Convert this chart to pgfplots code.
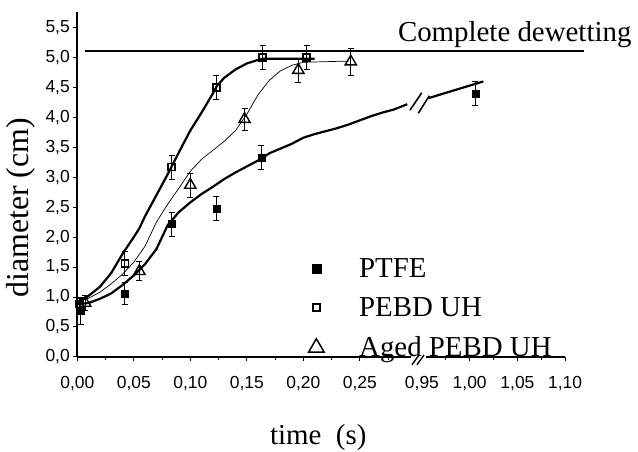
\documentclass[border=0pt]{standalone}
\usepackage{fontspec}
\setmainfont{Liberation Serif}
\newfontfamily\arialfont{Liberation Sans}
\usepackage{pgfplots}
\pgfplotsset{compat=1.18}
\pgfplotsset{
  errs/.style={error bars/y dir=both, error bars/y explicit,
    error bars/error bar style={line width=0.7bp,black},
    error bars/error mark options={rotate=90,mark size=3bp,line width=0.7bp,black}},
}
\begin{document}
\begin{tikzpicture}
\begin{axis}[
  scale only axis, width=488bp, height=345bp,
  xmin=0, xmax=0.43175, ymin=0, ymax=5.76,
  axis x line*=bottom, axis y line*=left,
  axis line style={line width=1.6bp},
  clip=false,
  % broken time axis: 0.95..1.10 is squeezed in after 0.30
  x filter/.expression={x>0.6 ? 0.305+(x-0.95)*0.845 : x},
  xtick={0,0.05,0.1,0.15,0.2,0.25,0.305,0.34725,0.3895,0.43175},
  xticklabels={{0,00},{0,05},{0,10},{0,15},{0,20},{0,25},{0,95},{1,00},{1,05},{1,10}},
  minor xtick={0.025,0.075,0.125,0.175,0.225,0.275,0.326125,0.368375,0.410625},
  ytick={0,0.5,...,5.5},
  yticklabels={{0,0},{0,5},{1,0},{1,5},{2,0},{2,5},{3,0},{3,5},{4,0},{4,5},{5,0},{5,5}},
  tick align=outside, major tick length=4bp, minor tick length=3bp,
  tick style={line width=1bp,black},
  tick label style={font=\arialfont\fontsize{17.5}{20}\selectfont},
  xticklabel style={yshift=-12bp},
  xlabel={time\ \ (s)}, ylabel={diameter (cm)},
  label style={font=\fontsize{29}{32}\selectfont},
  xlabel style={at={(axis description cs:0.494,-0.255)},anchor=base},
  ylabel style={at={(axis description cs:-0.101,0.432)},anchor=base,font=\fontsize{32}{34}\selectfont},
  legend style={at={(axis cs:0.2045,1.686)},anchor=north west,draw=none,fill=none,
    inner sep=0pt,row sep=15bp,column sep=33bp,font=\fontsize{29}{32}\selectfont,nodes={inner sep=2bp}},
  legend cell align=left,
]
% complete dewetting level
\addplot[black,line width=2bp,forget plot] coordinates {(0.007,5.1) (1.12,5.1)};
% PEBD UH curve
\addplot[black,line width=2.2bp,forget plot] coordinates {
(0,0.9) (0.01,1.02) (0.02,1.17) (0.03,1.4) (0.04,1.72) (0.05,2.0) (0.055,2.15)
(0.06,2.35) (0.07,2.7) (0.08,3.05) (0.0835,3.18) (0.09,3.42) (0.10,3.78)
(0.11,4.08) (0.12,4.4) (0.1234,4.52) (0.13,4.66) (0.14,4.8) (0.15,4.9)
(0.16,4.96) (0.165,4.98) (0.21,4.98)};
% Aged PEBD UH curve
\addplot[black,line width=0.7bp,forget plot] coordinates {
(0,0.92) (0.01,0.98) (0.02,1.08) (0.03,1.22) (0.04,1.38) (0.05,1.58) (0.06,1.85)
(0.07,2.25) (0.08,2.55) (0.09,2.82) (0.10,3.1) (0.11,3.3) (0.12,3.45) (0.13,3.6)
(0.14,3.78) (0.15,4.05) (0.16,4.38) (0.17,4.62) (0.18,4.78) (0.19,4.87)
(0.20,4.92) (0.24,4.94)};
% PTFE curve, both sides of the break
\addplot[black,line width=2.2bp,forget plot] coordinates {
(0,0.88) (0.01,0.9) (0.02,0.97) (0.03,1.06) (0.04,1.2) (0.05,1.36) (0.06,1.55)
(0.07,1.8) (0.08,2.2) (0.09,2.42) (0.10,2.58) (0.11,2.72) (0.12,2.84) (0.13,2.97)
(0.14,3.08) (0.15,3.18) (0.16,3.28) (0.17,3.4) (0.18,3.48) (0.19,3.56) (0.20,3.66)
(0.21,3.72) (0.22,3.77) (0.23,3.82) (0.24,3.88) (0.25,3.95) (0.26,4.02)
(0.27,4.08) (0.28,4.13) (0.292,4.22)};
\addplot[black,line width=2.2bp,forget plot] coordinates {(0.9566,4.32) (1.0143,4.6)};
% measured points
\addplot[black,only marks,mark=square*,mark size=3.5bp,forget plot,errs] coordinates {
(0.003,0.77) +- (0,0.22) (0.042,1.06) +- (0,0.18) (0.0835,2.22) +- (0,0.2)
(0.123,2.48) +- (0,0.2) (0.163,3.33) +- (0,0.2) (1.006,4.40) +- (0,0.2)};
\addplot[black,only marks,mark=square,mark size=3.5bp,mark options={line width=1.5bp},forget plot,errs] coordinates {
(0.002,0.88) +- (0,0.1) (0.042,1.56) +- (0,0.2) (0.0835,3.17) +- (0,0.2)
(0.123,4.5) +- (0,0.2) (0.164,5.0) +- (0,0.2) (0.203,5.0) +- (0,0.2)};
\addplot[black,only marks,mark=triangle,mark size=6.5bp,mark options={line width=1.4bp,fill=white},forget plot,errs] coordinates {
(0.007,0.9) +- (0,0.12) (0.055,1.43) +- (0,0.16) (0.100,2.87) +- (0,0.2)
(0.148,3.97) +- (0,0.18) (0.1956,4.79) +- (0,0.2) (0.242,4.93) +- (0,0.22)};
% legend
\addlegendimage{only marks,black,mark=square*,mark size=4.5bp}
\addlegendentry{PTFE}
\addlegendimage{only marks,black,mark=square,mark size=3.5bp,mark options={line width=1.8bp}}
\addlegendentry{PEBD UH}
\addlegendimage{only marks,black,mark=triangle,mark size=9bp,mark options={line width=1.5bp}}
\addlegendentry{Aged PEBD UH}
% axis and curve breaks
\fill[white] (axis cs:0.2955,-0.15) rectangle (axis cs:0.3085,0.05);
\draw[line width=1.4bp] (axis cs:0.2962,-0.13) -- (axis cs:0.3024,0.03);
\draw[line width=1.4bp] (axis cs:0.3006,-0.13) -- (axis cs:0.3068,0.03);
\draw[line width=1.6bp] (axis cs:0.2944,4.12) -- (axis cs:0.3048,4.41);
\draw[line width=1.6bp] (axis cs:0.3018,4.07) -- (axis cs:0.3115,4.36);
\node[anchor=base east,font=\fontsize{29}{32}\selectfont] at (axis cs:0.4935,5.264) {Complete dewetting};
\coordinate (bbsw) at (axis cs:-0.0684,-1.586);
\coordinate (bbne) at (axis cs:0.4962,5.96);
\end{axis}
\pgfresetboundingbox
\path (bbsw) rectangle (bbne);
\end{tikzpicture}
\end{document}
